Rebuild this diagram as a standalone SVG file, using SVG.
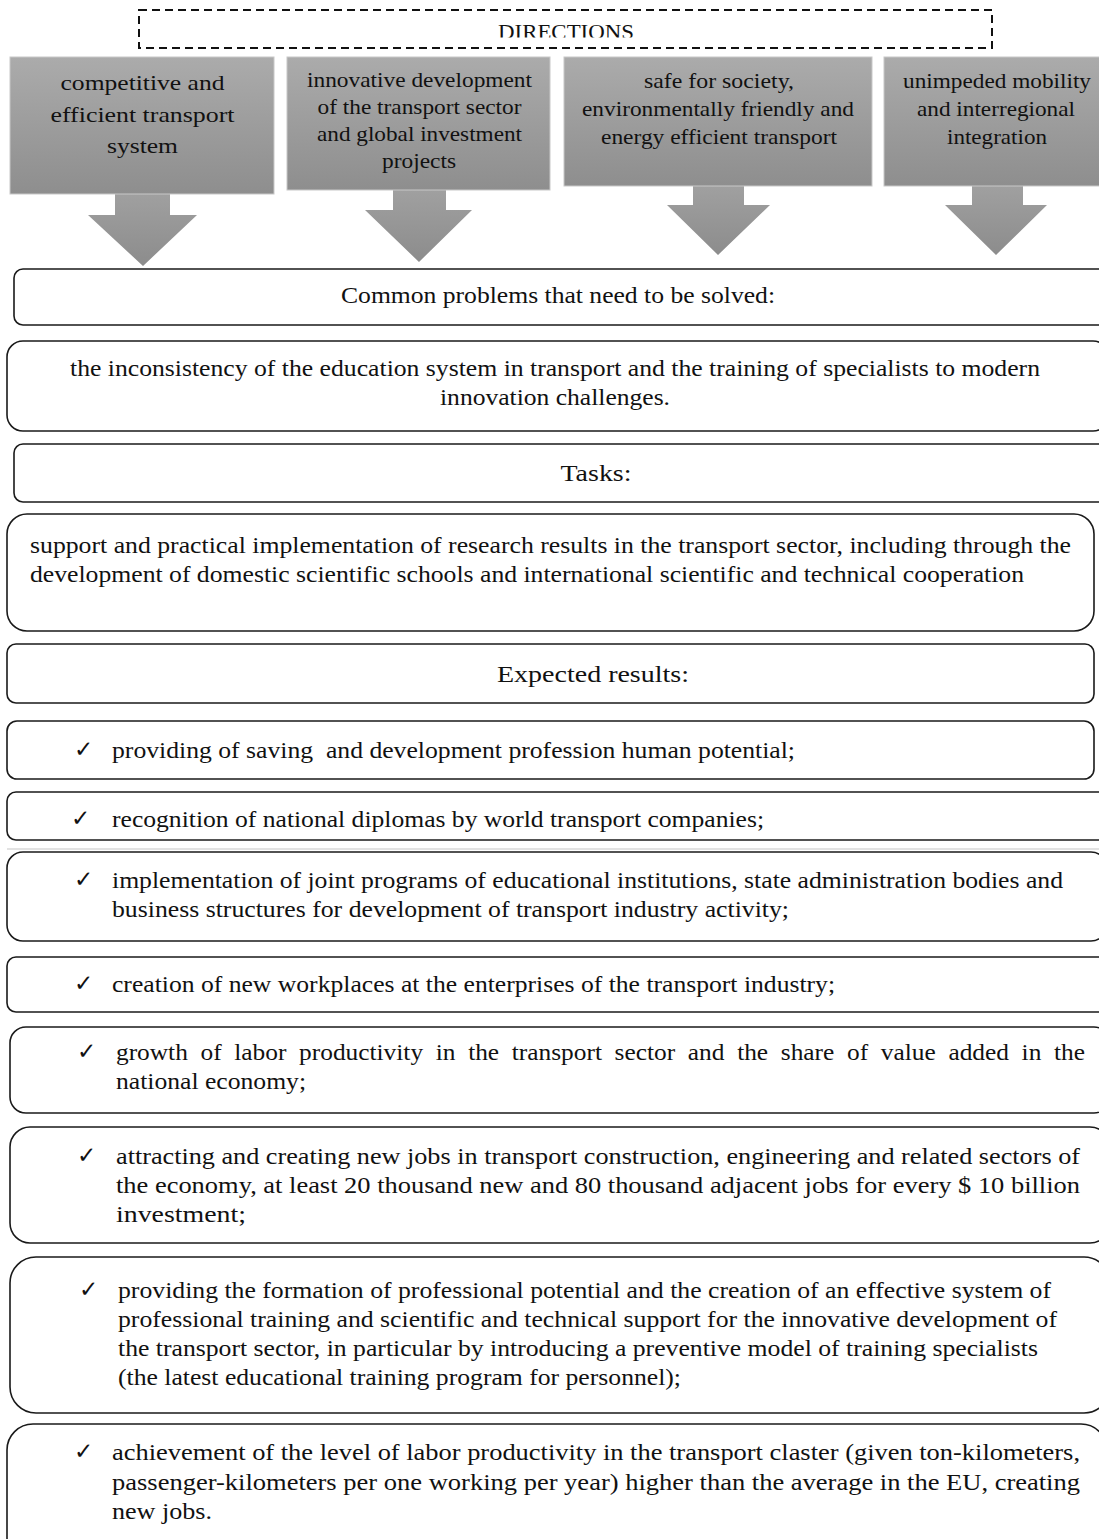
<svg xmlns="http://www.w3.org/2000/svg" width="1099" height="1539" viewBox="0 0 1099 1539">
<defs>
<linearGradient id="gbox" x1="0" y1="0" x2="0" y2="1">
<stop offset="0" stop-color="#ababab"/><stop offset="1" stop-color="#8e8e8e"/>
</linearGradient>
<linearGradient id="garr" x1="0" y1="0" x2="0" y2="1">
<stop offset="0" stop-color="#a0a0a0"/><stop offset="1" stop-color="#8c8c8c"/>
</linearGradient>
<clipPath id="dirclip"><rect x="140" y="10" width="850" height="27.5"/></clipPath>
</defs>
<style>
text{font-family:"Liberation Serif","Times New Roman",serif;fill:#111;}
.t{font-size:24px;}
.h{font-size:21px;text-anchor:middle;}
.c{text-anchor:middle;}
.dir{fill:url(#gbox);stroke:#c8c8c8;stroke-width:1;}
.arr{fill:url(#garr);stroke:none;}
.rb{fill:#fff;stroke:#1a1a1a;stroke-width:1.6;}
.ck{font-size:23px;font-family:"DejaVu Sans",sans-serif;}
</style>
<rect width="1099" height="1539" fill="#fff"/>

<g id="directions">
<rect x="139" y="10" width="853" height="38" fill="none" stroke="#111" stroke-width="2" stroke-dasharray="8,5"/>
<text x="566" y="39" class="h" font-size="20" textLength="136" lengthAdjust="spacingAndGlyphs" clip-path="url(#dirclip)">DIRECTIONS</text>
</g>

<g id="connectors">
<polygon class="arr" points="115,193 170,193 170,215 197,215 143,266 88,215 115,215"/>
<polygon class="arr" points="393,190 446,190 446,210 472,210 419,262 365,210 393,210"/>
<polygon class="arr" points="693,186 744,186 744,205 770,205 718,255 667,205 693,205"/>
<polygon class="arr" points="972,186 1023,186 1023,205 1047,205 996,255 945,205 972,205"/>
</g>

<g id="dir1">
<rect class="dir" x="10" y="57" width="264" height="137"/>
<text class="h" font-size="24" x="142.5" y="90" textLength="164" lengthAdjust="spacingAndGlyphs">competitive and</text>
<text class="h" font-size="24" x="142.5" y="122" textLength="184" lengthAdjust="spacingAndGlyphs">efficient transport</text>
<text class="h" font-size="24" x="142.5" y="153" textLength="71" lengthAdjust="spacingAndGlyphs">system</text>
</g>
<g id="dir2">
<rect class="dir" x="287" y="57" width="263" height="133"/>
<text class="h" x="419.5" y="87" textLength="225" lengthAdjust="spacingAndGlyphs">innovative development</text>
<text class="h" x="419.5" y="114" textLength="204" lengthAdjust="spacingAndGlyphs">of the transport sector</text>
<text class="h" x="419.5" y="141" textLength="205" lengthAdjust="spacingAndGlyphs">and global investment</text>
<text class="h" x="419" y="168" textLength="74" lengthAdjust="spacingAndGlyphs">projects</text>
</g>
<g id="dir3">
<rect class="dir" x="564" y="57" width="308" height="129"/>
<text class="h" x="719" y="88" textLength="150" lengthAdjust="spacingAndGlyphs">safe for society,</text>
<text class="h" x="718" y="116" textLength="272" lengthAdjust="spacingAndGlyphs">environmentally friendly and</text>
<text class="h" x="719" y="144" textLength="236" lengthAdjust="spacingAndGlyphs">energy efficient transport</text>
</g>
<g id="dir4">
<rect class="dir" x="884" y="57" width="220" height="129"/>
<text class="h" x="997" y="88" textLength="188" lengthAdjust="spacingAndGlyphs">unimpeded mobility</text>
<text class="h" x="996" y="116" textLength="158" lengthAdjust="spacingAndGlyphs">and interregional</text>
<text class="h" x="997" y="144" textLength="100" lengthAdjust="spacingAndGlyphs">integration</text>
</g>

<g id="problems-title">
<rect class="rb" x="14" y="269" width="1095" height="56" rx="9"/>
<text class="t c" x="558" y="303" textLength="434" lengthAdjust="spacingAndGlyphs">Common problems that need to be solved:</text>
</g>
<g id="problems">
<rect class="rb" x="7" y="341" width="1102" height="90" rx="16" stroke-width="2.2"/>
<text class="t c" x="555" y="376" textLength="970" lengthAdjust="spacingAndGlyphs">the inconsistency of the education system in transport and the training of specialists to modern</text>
<text class="t c" x="555" y="405" textLength="230" lengthAdjust="spacingAndGlyphs">innovation challenges.</text>
</g>
<g id="tasks-title">
<rect class="rb" x="14" y="444" width="1095" height="58" rx="9"/>
<text class="t c" x="596" y="481" font-size="25" textLength="71" lengthAdjust="spacingAndGlyphs">Tasks:</text>
</g>
<g id="tasks">
<rect class="rb" x="7" y="514" width="1087" height="117" rx="20"/>
<text class="t" x="30" y="553" textLength="1041" lengthAdjust="spacingAndGlyphs">support and practical implementation of research results in the transport sector, including through the</text>
<text class="t" x="30" y="582" textLength="994" lengthAdjust="spacingAndGlyphs">development of domestic scientific schools and international scientific and technical cooperation</text>
</g>
<g id="results-title">
<rect class="rb" x="7" y="644" width="1087" height="59" rx="9"/>
<text class="t c" x="593" y="682" font-size="25" textLength="192" lengthAdjust="spacingAndGlyphs">Expected results:</text>
</g>

<g id="r1">
<rect class="rb" x="7" y="721" width="1087" height="58" rx="10" stroke-width="2.2"/>
<text class="ck" x="74" y="757">✓</text>
<text class="t" x="112" y="758" textLength="683" lengthAdjust="spacingAndGlyphs" style="white-space:pre">providing of saving  and development profession human potential;</text>
</g>
<g id="r2">
<rect class="rb" x="7" y="792" width="1100" height="48" rx="9" stroke-width="2.2"/>
<text class="ck" x="71" y="826">✓</text>
<text class="t" x="112" y="827" textLength="652" lengthAdjust="spacingAndGlyphs">recognition of national diplomas by world transport companies;</text>
<line x1="7" y1="849" x2="1099" y2="849" stroke="#d8d8d8" stroke-width="1.5"/>
</g>
<g id="r3">
<rect class="rb" x="7" y="852" width="1100" height="89" rx="16" stroke-width="2.2"/>
<text class="ck" x="74" y="887">✓</text>
<text class="t" x="112" y="888" textLength="951" lengthAdjust="spacingAndGlyphs">implementation of joint programs of educational institutions, state administration bodies and</text>
<text class="t" x="112" y="917" textLength="677" lengthAdjust="spacingAndGlyphs">business structures for development of transport industry activity;</text>
</g>
<g id="r4">
<rect class="rb" x="7" y="957" width="1100" height="55" rx="9"/>
<text class="ck" x="74" y="991">✓</text>
<text class="t" x="112" y="992" textLength="723" lengthAdjust="spacingAndGlyphs">creation of new workplaces at the enterprises of the transport industry;</text>
</g>
<g id="r5">
<rect class="rb" x="10" y="1027" width="1100" height="86" rx="16" stroke-width="2.2"/>
<text class="ck" x="77" y="1059">✓</text>
<text class="t" x="116" y="1060" textLength="969" lengthAdjust="spacingAndGlyphs" word-spacing="6">growth of labor productivity in the transport sector and the share of value added in the</text>
<text class="t" x="116" y="1089" textLength="190" lengthAdjust="spacingAndGlyphs">national economy;</text>
</g>
<g id="r6">
<rect class="rb" x="10" y="1127" width="1100" height="116" rx="20" stroke-width="2.2"/>
<text class="ck" x="77" y="1163">✓</text>
<text class="t" x="116" y="1164" textLength="964" lengthAdjust="spacingAndGlyphs">attracting and creating new jobs in transport construction, engineering and related sectors of</text>
<text class="t" x="116" y="1193" textLength="964" lengthAdjust="spacingAndGlyphs">the economy, at least 20 thousand new and 80 thousand adjacent jobs for every $ 10 billion</text>
<text class="t" x="116" y="1222" textLength="130" lengthAdjust="spacingAndGlyphs">investment;</text>
</g>
<g id="r7">
<rect class="rb" x="10" y="1257" width="1100" height="156" rx="26" stroke-width="2.2"/>
<text class="ck" x="79" y="1297">✓</text>
<text class="t" x="118" y="1298" textLength="933" lengthAdjust="spacingAndGlyphs">providing the formation of professional potential and the creation of an effective system of</text>
<text class="t" x="118" y="1327" textLength="939" lengthAdjust="spacingAndGlyphs">professional training and scientific and technical support for the innovative development of</text>
<text class="t" x="118" y="1356" textLength="920" lengthAdjust="spacingAndGlyphs">the transport sector, in particular by introducing a preventive model of training specialists</text>
<text class="t" x="118" y="1385" textLength="563" lengthAdjust="spacingAndGlyphs">(the latest educational training program for personnel);</text>
</g>
<g id="r8">
<rect class="rb" x="7" y="1424" width="1100" height="140" rx="26" stroke-width="2.2"/>
<text class="ck" x="74" y="1459">✓</text>
<text class="t" x="112" y="1460" textLength="968" lengthAdjust="spacingAndGlyphs">achievement of the level of labor productivity in the transport claster (given ton-kilometers,</text>
<text class="t" x="112" y="1490" textLength="968" lengthAdjust="spacingAndGlyphs">passenger-kilometers per one working per year) higher than the average in the EU, creating</text>
<text class="t" x="112" y="1519" textLength="100" lengthAdjust="spacingAndGlyphs">new jobs.</text>
</g>
</svg>
